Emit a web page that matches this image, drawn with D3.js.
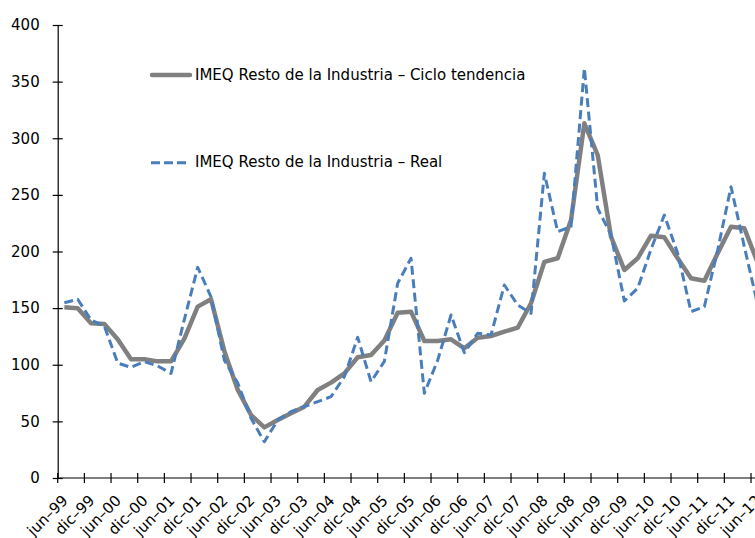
<!DOCTYPE html>
<html>
<head>
<meta charset="utf-8">
<script src="https://cdn.jsdelivr.net/npm/d3@7"></script>
<style>
  html, body { margin: 0; padding: 0; background: #fff; }
  svg { display: block; overflow: hidden; }
  text { font-family: "DejaVu Sans", sans-serif; fill: #000; }
</style>
</head>
<body>
<svg id="chart" width="755" height="538"></svg>
<script>
// Quarterly categories (jun-99 .. jun-12)
const quarters = [
  "jun–99","sep–99","dic–99","mar–00","jun–00","sep–00","dic–00","mar–01","jun–01","sep–01",
  "dic–01","mar–02","jun–02","sep–02","dic–02","mar–03","jun–03","sep–03","dic–03","mar–04",
  "jun–04","sep–04","dic–04","mar–05","jun–05","sep–05","dic–05","mar–06","jun–06","sep–06",
  "dic–06","mar–07","jun–07","sep–07","dic–07","mar–08","jun–08","sep–08","dic–08","mar–09",
  "jun–09","sep–09","dic–09","mar–10","jun–10","sep–10","dic–10","mar–11","jun–11","sep–11",
  "dic–11","mar–12","jun–12"
];
// Tick labels shown on the x axis (every second quarter)
const xTickLabels = [
  "jun–99","dic–99","jun–00","dic–00","jun–01","dic–01","jun–02","dic–02","jun–03","dic–03",
  "jun–04","dic–04","jun–05","dic–05","jun–06","dic–06","jun–07","dic–07","jun–08","dic–08",
  "jun–09","dic–09","jun–10","dic–10","jun–11","dic–11","jun–12"
];
const yTicks = [0, 50, 100, 150, 200, 250, 300, 350, 400];

const trendName = "IMEQ Resto de la Industria – Ciclo tendencia";
const realName  = "IMEQ Resto de la Industria – Real";

const trendValues = [
  150.7,149.8,136.6,136.0,122.5,104.8,104.8,103.0,103.0,123.0,
  151.3,157.8,112.0,78.0,55.6,44.7,51.2,57.1,63.0,77.7,
  84.2,92.4,106.6,108.6,121.5,146.0,146.9,121.0,121.0,122.5,
  114.5,123.9,125.4,129.2,132.7,154.3,190.8,194.0,227.8,313.2,
  285.2,213.0,183.7,194.0,214.0,212.5,194.0,176.3,174.2,198.4,
  221.9,220.5,190.0
];
const realValues = [
  154.8,157.8,139.5,134.2,101.5,97.7,102.7,98.9,92.4,140.0,
  186.0,160.0,104.0,84.0,52.7,32.0,51.2,58.6,63.0,67.4,
  71.8,89.5,124.2,85.0,103.0,172.0,194.0,74.8,104.0,143.9,
  110.6,127.8,126.3,170.4,152.8,145.4,269.0,217.5,221.9,361.8,
  238.1,214.6,156.3,167.5,202.0,232.2,198.4,146.9,151.3,201.3,
  257.2,204.2,153.0
];

const svg = d3.select("#chart");
const plotLeft = 57.7, plotBottom = 478, plotTop = 25;
const band = 13.333;

const x = d3.scaleBand().domain(quarters).range([plotLeft, plotLeft + band * quarters.length]).padding(0);
const cx = d => x(d) + x.bandwidth() / 2;
const y = d3.scaleLinear().domain([0, 400]).range([plotBottom, plotTop]);

// Y axis
const yAxis = svg.append("g")
  .attr("transform", `translate(${plotLeft},0)`)
  .call(d3.axisLeft(y).tickValues(yTicks).tickSizeInner(5).tickSizeOuter(0).tickPadding(13).tickFormat(d3.format("d")));
yAxis.select(".domain").attr("stroke", "#000").attr("stroke-width", 1.2);
yAxis.selectAll(".tick line").attr("x1", 5).attr("x2", -5).attr("stroke", "#000").attr("stroke-width", 1.2);
yAxis.selectAll(".tick text").style("font-size", "15px").style("font-family", "DejaVu Sans");

// X axis line
svg.append("line")
  .attr("x1", plotLeft).attr("x2", 760)
  .attr("y1", y(0)).attr("y2", y(0))
  .attr("stroke", "#000").attr("stroke-width", 1.2);

// X tick marks at category boundaries
svg.append("g").selectAll("line")
  .data(xTickLabels)
  .join("line")
  .attr("x1", d => x(d)).attr("x2", d => x(d))
  .attr("y1", y(0) - 5).attr("y2", y(0) + 5)
  .attr("stroke", "#000").attr("stroke-width", 1.2);

// X tick labels, rotated
svg.append("g").selectAll("text")
  .data(xTickLabels)
  .join("text")
  .attr("transform", d => `translate(${cx(d) - 3},${y(0) + 16}) rotate(-45)`)
  .attr("text-anchor", "end")
  .attr("dy", "0.7em")
  .style("font-size", "15px")
  .text(d => d);

// Lines
const lineGen = vals => d3.line()
  .x((d, i) => cx(quarters[i]))
  .y(d => y(d))(vals);

svg.append("path")
  .attr("d", lineGen(trendValues))
  .attr("fill", "none")
  .attr("stroke", "#808080")
  .attr("stroke-width", 4.5)
  .attr("stroke-linejoin", "round");

svg.append("path")
  .attr("d", lineGen(realValues))
  .attr("fill", "none")
  .attr("stroke", "#4a7ebb")
  .attr("stroke-width", 3)
  .attr("stroke-dasharray", "9,4.5")
  .attr("stroke-linejoin", "round");

// Legend
const legend = svg.append("g");
legend.append("line")
  .attr("x1", 152).attr("x2", 190).attr("y1", 75).attr("y2", 75)
  .attr("stroke", "#808080").attr("stroke-width", 4.5).attr("stroke-linecap", "round");
legend.append("text")
  .attr("x", 195).attr("y", 80).style("font-size", "15px").text(trendName);

legend.append("line")
  .attr("x1", 151).attr("x2", 188).attr("y1", 162.7).attr("y2", 162.7)
  .attr("stroke", "#4a7ebb").attr("stroke-width", 3).attr("stroke-dasharray", "9,4");
legend.append("text")
  .attr("x", 195).attr("y", 166.5).style("font-size", "15px").text(realName);
</script>
</body>
</html>
